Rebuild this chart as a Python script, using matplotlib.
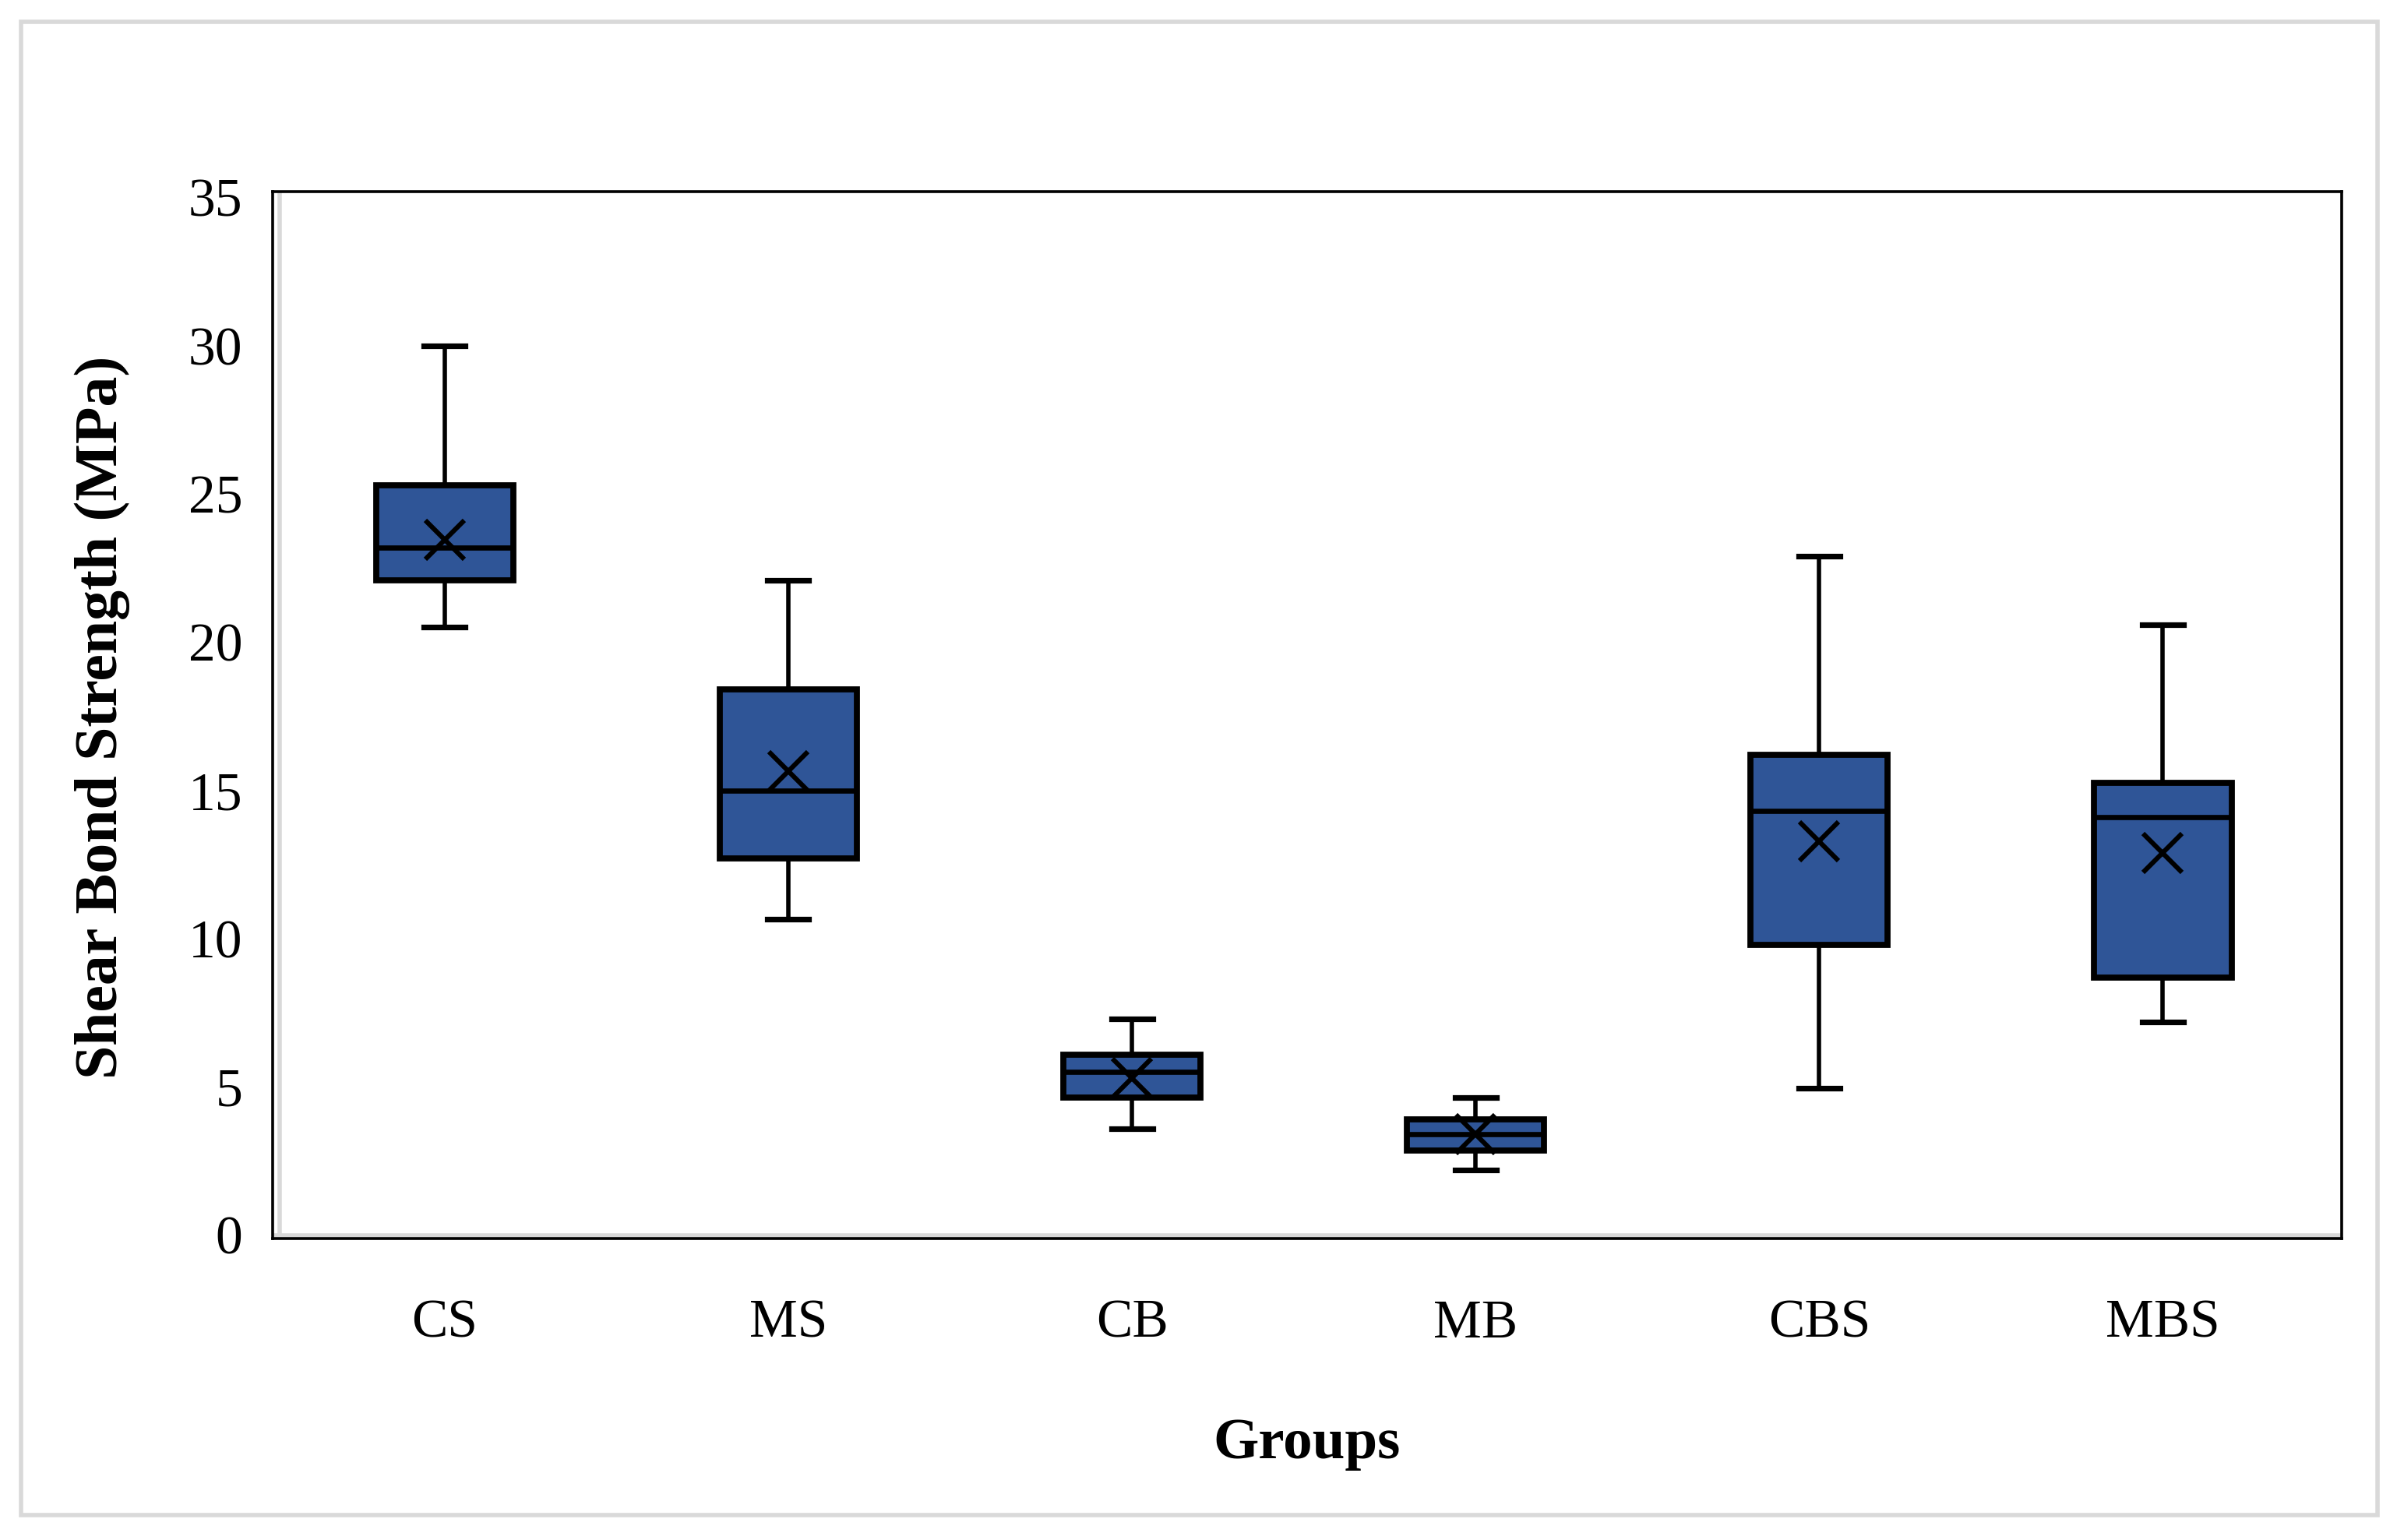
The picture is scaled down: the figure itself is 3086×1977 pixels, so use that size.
import matplotlib
matplotlib.use("Agg")
import matplotlib.pyplot as plt
from matplotlib.patches import Rectangle

groups = ["CS", "MS", "CB", "MB", "CBS", "MBS"]
whisker_low = [20.5, 10.65, 3.6, 2.2, 4.95, 7.2]
q1 = [22.1, 12.7, 4.65, 2.85, 9.8, 8.7]
median = [23.2, 15.0, 5.5, 3.4, 14.3, 14.1]
mean = [23.45, 15.65, 5.3, 3.4, 13.3, 12.9]
q3 = [25.3, 18.4, 6.1, 3.9, 16.2, 15.25]
whisker_high = [30.0, 22.1, 7.3, 4.65, 22.9, 20.6]
yticks = [0, 5, 10, 15, 20, 25, 30, 35]

plt.rcParams['font.family'] = ['Liberation Serif', 'DejaVu Serif']

fig = plt.figure(figsize=(15.43, 9.885), dpi=200)
ax = fig.add_axes([0.1135, 0.1956, 0.8605, 0.68])

stats = []
for i, g in enumerate(groups):
    stats.append(dict(label=g, whislo=whisker_low[i], q1=q1[i], med=median[i],
                      mean=mean[i], q3=q3[i], whishi=whisker_high[i], fliers=[]))

positions = list(range(1, len(groups) + 1))
ax.bxp(stats, positions=positions, widths=0.4, capwidths=0.12, patch_artist=True,
       showmeans=True,
       boxprops=dict(facecolor='#2F5597', edgecolor='black', linewidth=2.8),
       medianprops=dict(color='black', linewidth=2.4),
       whiskerprops=dict(color='black', linewidth=2.0),
       capprops=dict(color='black', linewidth=2.6),
       meanprops=dict(marker='x', markersize=18, markeredgecolor='black',
                      markeredgewidth=2.2, linestyle='none'))

ax.set_xlim(0.5, 6.52)
ax.set_ylim(-0.12, 35.2)
ax.set_yticks(yticks)
ax.set_yticklabels([str(v) for v in yticks])
ax.axhline(0, color='#D9D9D9', linewidth=2.0, zorder=0)
ax.axvline(0.52, color='#D9D9D9', linewidth=2.0, zorder=0)
ax.tick_params(axis='both', length=0, labelsize=25)
ax.tick_params(axis='y', pad=14)
ax.tick_params(axis='x', pad=28)
for s in ax.spines.values():
    s.set_color('black')
    s.set_linewidth(1.3)

ax.set_xlabel('Groups', fontsize=27, fontweight='bold')
ax.set_ylabel('Shear Bond Strength (MPa)', fontsize=28, fontweight='bold')
ax.xaxis.set_label_coords(0.5, -0.171)
ax.yaxis.set_label_coords(-0.069, 0.498)

fig.patches.append(Rectangle((0.0089, 0.0164), 0.98, 0.9696, transform=fig.transFigure,
                             fill=False, edgecolor='#D9D9D9', linewidth=2.0))

fig.savefig('out.png', dpi=200)
